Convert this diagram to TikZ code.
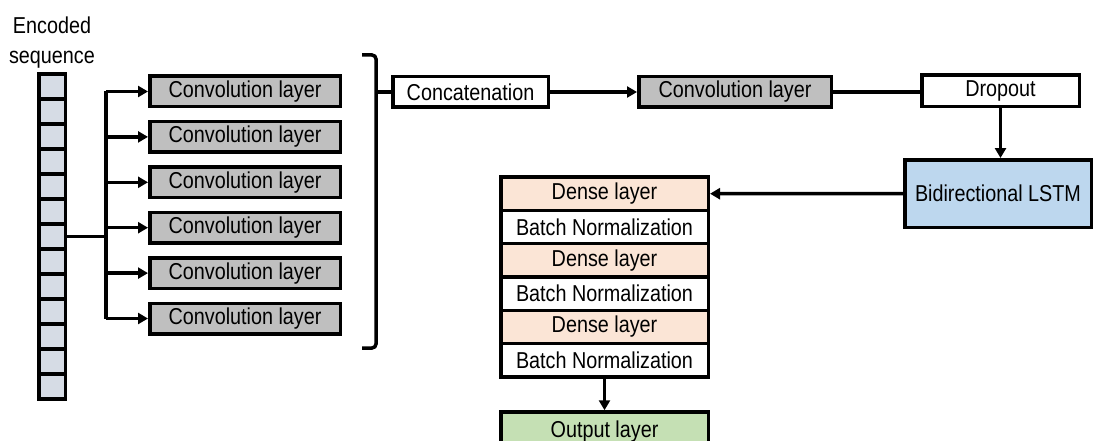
\documentclass[tikz,border=0pt]{standalone}
\usepackage{fontspec}
\setmainfont{Liberation Sans}[FakeStretch=0.86]
\usetikzlibrary{arrows.meta}
\definecolor{convgray}{HTML}{BFBFBF}
\definecolor{seqfill}{HTML}{D6DCE5}
\definecolor{densefill}{HTML}{FBE5D6}
\definecolor{lstmfill}{HTML}{BDD7EE}
\definecolor{outfill}{HTML}{C5E0B4}
\begin{document}
\begin{tikzpicture}[x=1pt,y=-1pt,
  lbl/.style={font=\fontsize{23}{30}\selectfont},
  box/.style={lbl, draw=black, line width=3.5pt, inner sep=0pt,
    minimum height=30.5pt, anchor=center},
  convbox/.style={box, fill=convgray, minimum width=190.5pt},
  cell/.style={draw=black, line width=3.5pt, fill=seqfill, inner sep=0pt,
    minimum width=26.5pt, minimum height=25pt},
  stackrow/.style={box, minimum width=207.5pt, minimum height=33.3pt},
  link/.style={line width=3.5pt},
  arr/.style={link, -{Triangle[length=10pt,width=11pt]}}]
\useasboundingbox (0,0) rectangle (1094,441);

% input sequence column
\node[lbl, align=center, inner sep=0pt] (title) at (52,42.5) {Encoded\\sequence};
\foreach \i in {1,...,13}
  \node[cell] (cell\i) at (52,{61.5+25*\i}) {};

% six parallel convolution layers
\foreach \i in {1,...,6}
  \node[convbox] (conv\i) at (245,{91.5+45.4*(\i-1)}) {Convolution layer};

% fan-out from the sequence to each convolution
\coordinate (split) at (106,236.5);
\draw[link] (cell7.east) -- (split);
\draw[link] (split |- conv1) -- (split |- conv6);
\foreach \i in {1,...,6}
  \draw[arr] (split |- conv\i) -- (conv\i.west);

% brace gathering the convolution outputs
\draw[link, rounded corners=4pt] (362,55) -- (376,55) -- (376,348) -- (362,348);
\coordinate (brace) at (376,92);

% main pipeline
\node[box, minimum width=155.5pt] (concat) at (470.5,92) {Concatenation};
\node[convbox, minimum width=192.5pt] (conv7) at (735,92) {Convolution layer};
\node[box, fill=white, minimum width=157.5pt, minimum height=31.5pt] (drop) at (1000.5,91) {Dropout};
\node[box, fill=lstmfill, minimum width=186.5pt, minimum height=67.5pt] (lstm) at (998,193.5) {Bidirectional LSTM};

\draw[link] (brace) -- (concat.west);
\draw[arr] (concat.east) -- (conv7.west);
\draw[link] (conv7.east) -- (drop.west |- conv7.east);
\draw[arr] (drop.south) -- (drop.south |- lstm.north);

% dense / batch normalization stack
\node[stackrow, fill=densefill] (d1) at (604.5,193.7) {Dense layer};
\node[stackrow, fill=white] (b1) at (604.5,227.0) {Batch Normalization};
\node[stackrow, fill=densefill] (d2) at (604.5,260.3) {Dense layer};
\node[stackrow, fill=white] (b2) at (604.5,293.6) {Batch Normalization};
\node[stackrow, fill=densefill] (d3) at (604.5,326.9) {Dense layer};
\node[stackrow, fill=white] (b3) at (604.5,360.2) {Batch Normalization};

\draw[arr] (lstm.west) -- (d1.east);

% output
\node[box, fill=outfill, minimum width=207.5pt, minimum height=40pt] (out) at (604.5,432) {Output layer};
\draw[arr] (b3.south) -- (out.north);
\end{tikzpicture}
\end{document}
